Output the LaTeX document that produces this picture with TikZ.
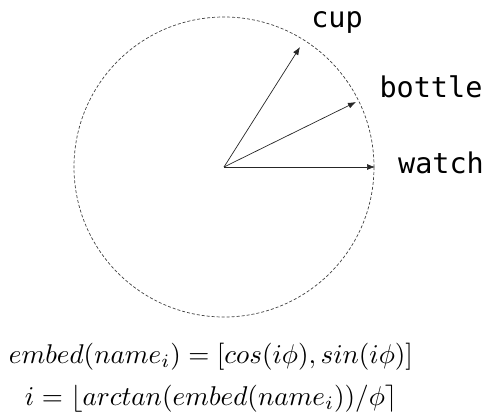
\documentclass[tikz,border=0pt]{standalone}
\usepackage{fontspec}
\usepackage{graphicx}
\usepackage{amsmath}
\newfontfamily\labelmono{DejaVu Sans Mono}
\usetikzlibrary{arrows.meta}
\tikzset{
  vec/.style={draw=black!85, line width=0.7pt, -{Latex[length=8pt,width=6pt]}},
  ring/.style={draw=black!75, line width=0.7pt, dash pattern=on 3pt off 2pt},
  lbl/.style={font=\labelmono\fontsize{28.5}{30}\selectfont, inner sep=0pt},
  eq/.style={inner sep=0pt, anchor=base}
}
\begin{document}
\begin{tikzpicture}[x=1pt,y=-1pt]
\useasboundingbox (0,0) rectangle (491,415);
\coordinate (o) at (224,167);
\draw[ring] (o) circle [radius=150];
\coordinate (w) at (375,167);
\coordinate (b) at (356,102);
\coordinate (c) at (300,47);
\draw[vec] (o) -- (w);
\draw[vec] (o) -- (b);
\draw[vec] (o) -- (c);
\node[lbl] (lc) at (337,22) {cup};
\node[lbl] (lb) at (431,87) {bottle};
\node[lbl] (lw) at (441,163) {watch};
\node[eq] (e1) at (211,363) {\resizebox{404pt}{!}{$embed(name_i) = [cos(i\phi), sin(i\phi)]$}};
\node[eq] (e2) at (211,405) {\resizebox{372pt}{!}{$i = \lfloor arctan(embed(name_i))/\phi\rceil$}};
\end{tikzpicture}
\end{document}
